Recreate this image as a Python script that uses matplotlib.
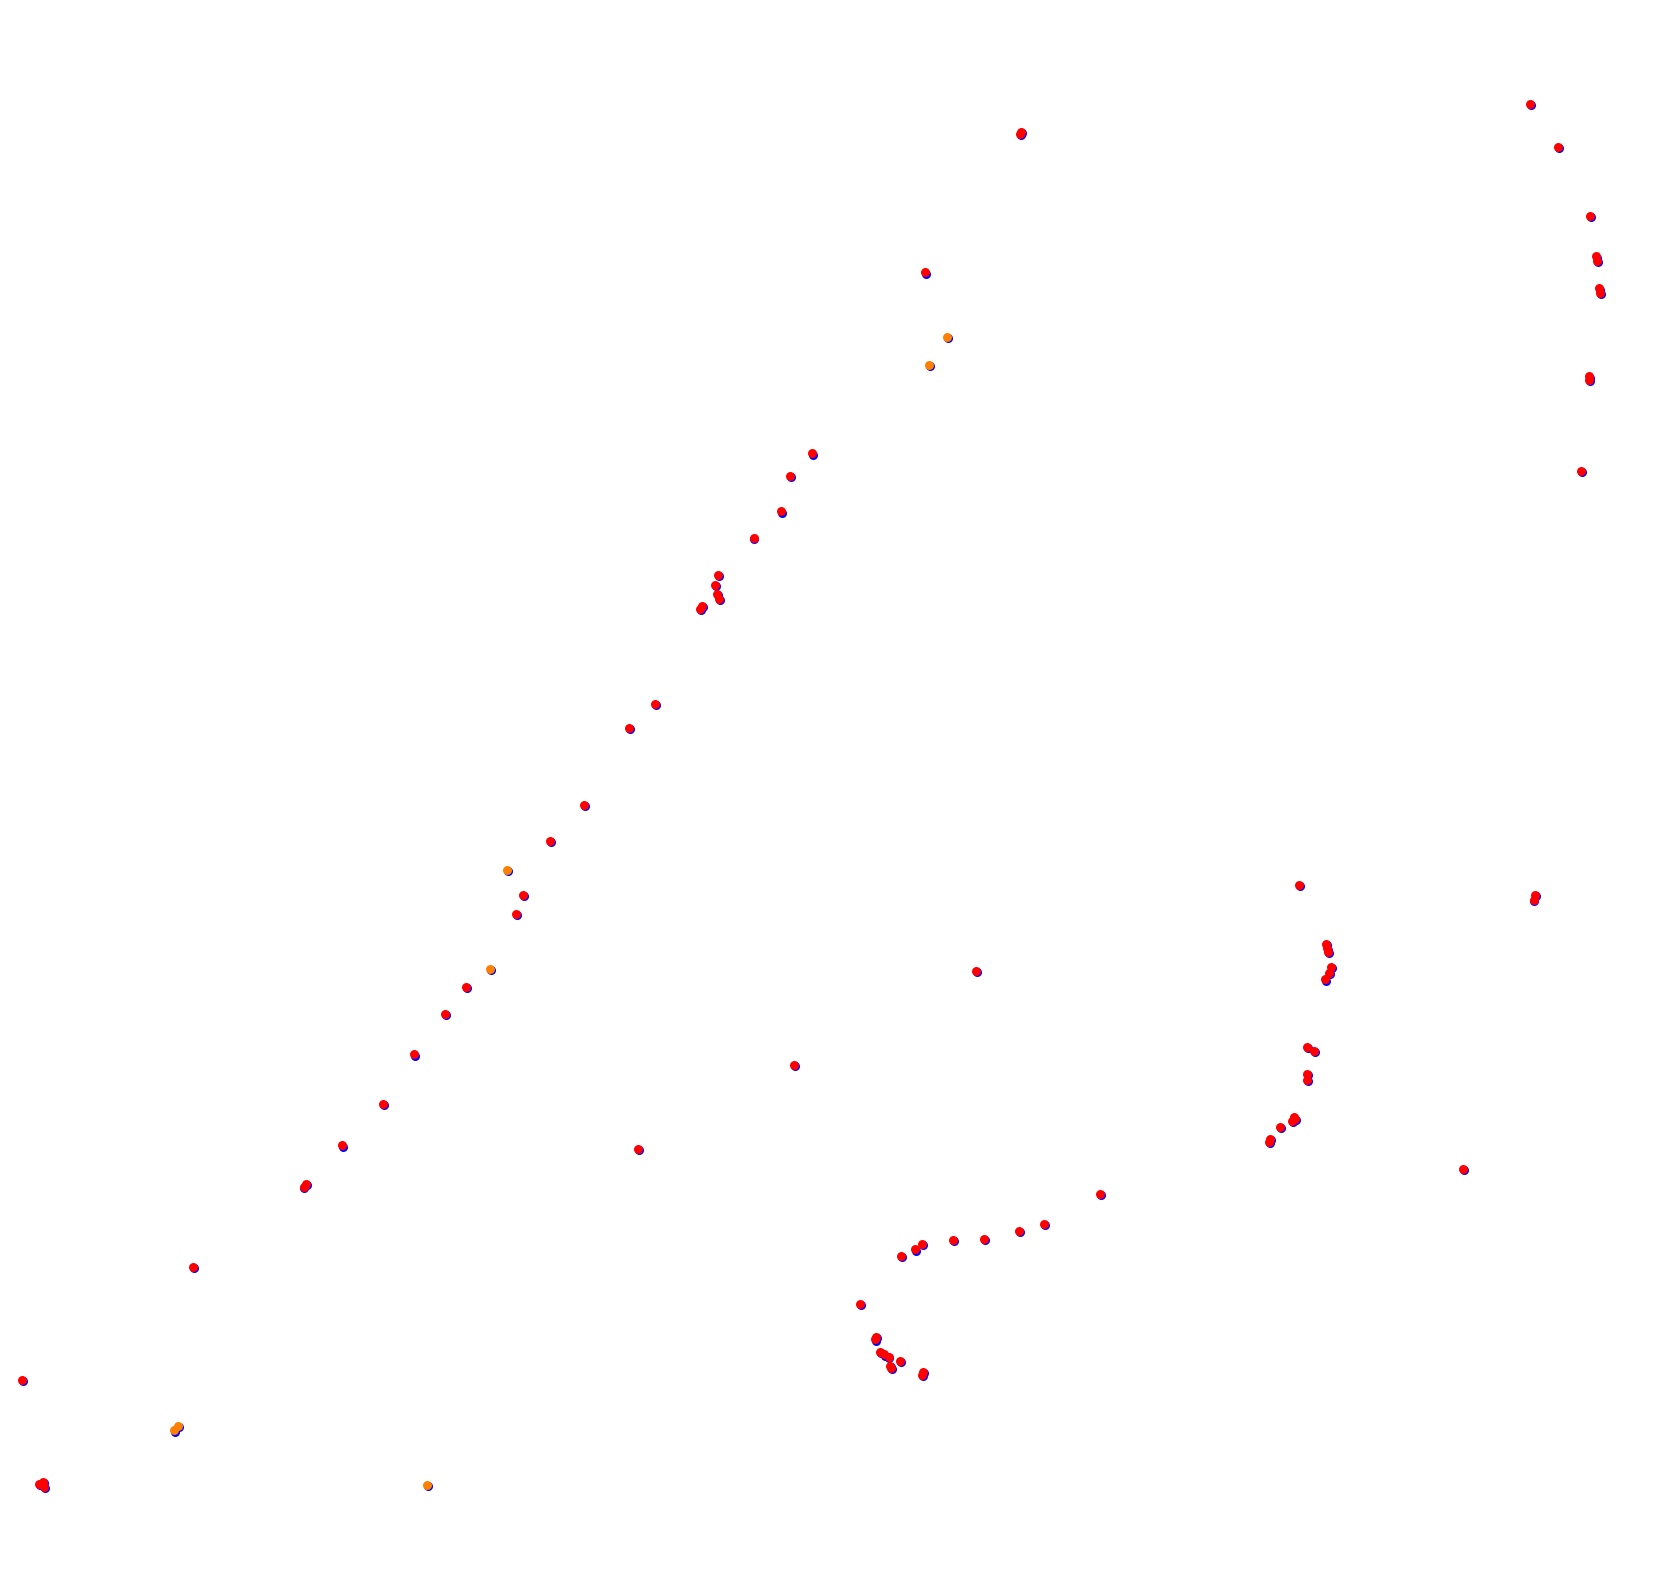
import matplotlib
matplotlib.use("Agg")
import matplotlib.pyplot as plt
import matplotlib.transforms as mtransforms

# Point positions (horizontal / vertical coordinate, vertical grows downward)
red_x = [1429, 1455, 1485, 1490, 1491, 1493, 1494, 1484, 1484, 1476,
         954, 953, 864, 759, 738, 730, 704, 671, 668, 670, 672, 656, 654,
         612, 588, 546, 514, 489, 482, 436, 416, 387, 358, 320, 286, 284,
         181, 21, 37, 41, 42, 596, 742, 912, 1366, 1433, 1432, 1213,
         1238, 1239, 1240, 1243, 1241, 1237, 1221, 1227, 1221, 1221,
         1208, 1209, 1207, 1195, 1186, 1185, 1027, 975, 952, 919, 890,
         861, 855, 842, 803, 818, 817, 822, 826, 830, 841, 832, 831, 862, 861]
red_y = [98, 138, 202, 240, 244, 270, 274, 352, 355, 440,
         124, 126, 255, 424, 445, 478, 503, 537, 547, 555, 560, 566, 569,
         658, 680, 752, 786, 836, 854, 922, 947, 985, 1031, 1070, 1106, 1109,
         1183, 1289, 1386, 1384, 1389, 1073, 995, 907, 1092, 836, 841, 827,
         882, 886, 889, 903, 909, 915, 978, 982, 1003, 1009,
         1043, 1045, 1047, 1053, 1064, 1067, 1115, 1143, 1150, 1157, 1158,
         1162, 1167, 1173, 1218, 1249, 1251, 1263, 1265, 1267, 1271, 1278, 1276, 1281, 1284]
orange_x = [885, 868, 474, 458, 167, 163, 399]
orange_y = [315, 341, 813, 905, 1332, 1336, 1387]

W, H = 1568, 1474

fig = plt.figure(figsize=(16.8, 15.79), dpi=100)
ax = fig.add_axes([0, 0, 1, 1])
ax.set_xlim(0.7, W + 0.7)
ax.set_ylim(H + 0.7, 0.7)
ax.axis("off")

size = 42
shift = mtransforms.ScaledTranslation(0.9 / 100, -1.2 / 100, fig.dpi_scale_trans)
all_x = red_x + orange_x
all_y = red_y + orange_y
ax.scatter(all_x, all_y, s=size, c="#0000ff", linewidths=0,
           transform=ax.transData + shift, zorder=1)
ax.scatter(orange_x, orange_y, s=size, c="#ff8000", linewidths=0, zorder=2)
ax.scatter(red_x, red_y, s=size, c="#ff0000", linewidths=0, zorder=3)

fig.savefig("out.png", dpi=100, facecolor="white")
